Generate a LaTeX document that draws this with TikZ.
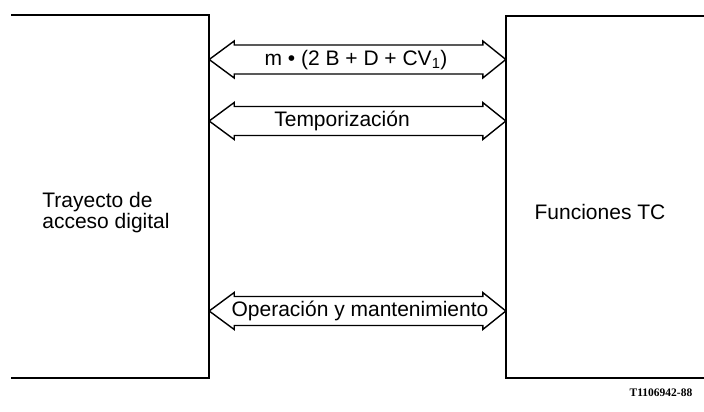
\documentclass[tikz,border=0pt]{standalone}
\usepackage{fontspec}
\setmainfont{Liberation Sans}
\newfontfamily\capfont{Liberation Serif}
\usetikzlibrary{calc}
\newcommand\fatdbl[2]{%
  \draw[fat] (#1) -- ($(#1)+(25,-18.5)$) -- ($(#1)+(25,-14.5)$)
    -- ($(#2)+(-23,-14.5)$) -- ($(#2)+(-23,-18.5)$) -- (#2)
    -- ($(#2)+(-23,18.5)$) -- ($(#2)+(-23,14.5)$)
    -- ($(#1)+(25,14.5)$) -- ($(#1)+(25,18.5)$) -- cycle;}
\begin{document}
\begin{tikzpicture}[x=1pt,y=-1pt,
  boxline/.style={line width=2pt, line cap=rect, line join=miter},
  fat/.style={draw, fill=white, line width=1.4pt, line join=miter},
  lbl/.style={font=\fontsize{21}{21}\selectfont, inner sep=0pt},
  figcode/.style={font=\capfont\bfseries\fontsize{11.5}{13}\selectfont, inner sep=0pt}]
\useasboundingbox[fill=white] (0,0) rectangle (704,412);
\node[minimum width=197pt, minimum height=363pt, inner sep=0pt] (L) at (110.5,196.5) {};
\node[minimum width=198pt, minimum height=362pt, inner sep=0pt] (R) at (605,197) {};
\draw[boxline] (L.north west) -- (L.north east) -- (L.south east) -- (L.south west);
\draw[boxline] (R.north east) -- (R.north west) -- (R.south west) -- (R.south east);
\node[lbl, align=left] (Lt) at (106,212.5) {Trayecto de\\acceso digital};
\node[lbl] (Rt) at (600,212) {Funciones TC};
\coordinate (a1l) at (L.east |- 0,59.5);
\coordinate (a1r) at (R.west |- 0,59.5);
\coordinate (a2l) at (L.east |- 0,121);
\coordinate (a2r) at (R.west |- 0,121);
\coordinate (a3l) at (L.east |- 0,311);
\coordinate (a3r) at (R.west |- 0,311);
\fatdbl{a1l}{a1r}
\fatdbl{a2l}{a2r}
\fatdbl{a3l}{a3r}
\node[lbl] (t1) at (356,60) {m • (2 B + D + CV\textsubscript{1})};
\node[lbl] (t2) at (342,121) {Temporización};
\node[lbl] (t3) at (360,311) {Operación y mantenimiento};
\node[figcode] (c) at (661,393) {T1106942-88};
\end{tikzpicture}
\end{document}
